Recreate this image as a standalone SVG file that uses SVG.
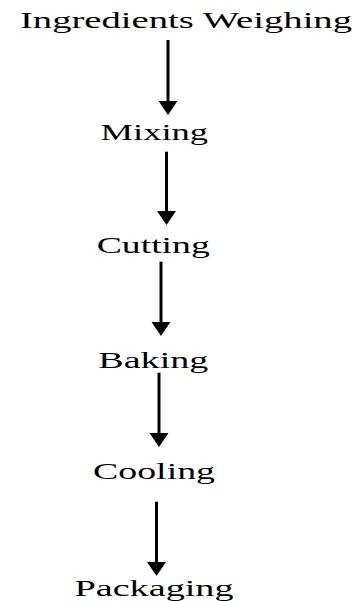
<svg xmlns="http://www.w3.org/2000/svg" width="363" height="601" viewBox="0 0 363 601">
  <style>
    .lbl { font-family: "Liberation Serif", "Times New Roman", serif; font-size: 23px; fill: #000; }
    .conn { stroke: #000; stroke-width: 3; fill: none; marker-end: url(#head); }
  </style>
  <defs>
    <marker id="head" markerUnits="userSpaceOnUse" markerWidth="15" markerHeight="20" refX="1" refY="9.5" orient="auto" viewBox="0 0 15 19">
      <path d="M0,0 L14,9.5 L0,19 Z" fill="#000"/>
    </marker>
  </defs>
  <rect width="363" height="601" fill="#fff"/>
  <g id="n-weighing"><text class="lbl" transform="translate(20,27.5) scale(1.66,1)" textLength="200" lengthAdjust="spacingAndGlyphs">Ingredients Weighing</text></g>
  <g id="n-mixing"><text class="lbl" transform="translate(100.5,139.5) scale(1.66,1)" textLength="64.8" lengthAdjust="spacingAndGlyphs">Mixing</text></g>
  <g id="n-cutting"><text class="lbl" transform="translate(96.7,252.7) scale(1.66,1)" textLength="68.1" lengthAdjust="spacingAndGlyphs">Cutting</text></g>
  <g id="n-baking"><text class="lbl" transform="translate(98.3,367.5) scale(1.66,1)" textLength="66.3" lengthAdjust="spacingAndGlyphs">Baking</text></g>
  <g id="n-cooling"><text class="lbl" transform="translate(93,479.3) scale(1.66,1)" textLength="73.5" lengthAdjust="spacingAndGlyphs">Cooling</text></g>
  <g id="n-packaging"><text class="lbl" transform="translate(74.5,595.5) scale(1.66,1)" textLength="95.8" lengthAdjust="spacingAndGlyphs">Packaging</text></g>
  <g id="connectors">
    <line class="conn" x1="168" y1="40" x2="168" y2="102"/>
    <line class="conn" x1="166.5" y1="151.7" x2="166.5" y2="212"/>
    <line class="conn" x1="161" y1="261.7" x2="161" y2="323"/>
    <line class="conn" x1="159" y1="372.7" x2="159" y2="434"/>
    <line class="conn" x1="156.5" y1="501.7" x2="156.5" y2="563"/>
  </g>
</svg>
